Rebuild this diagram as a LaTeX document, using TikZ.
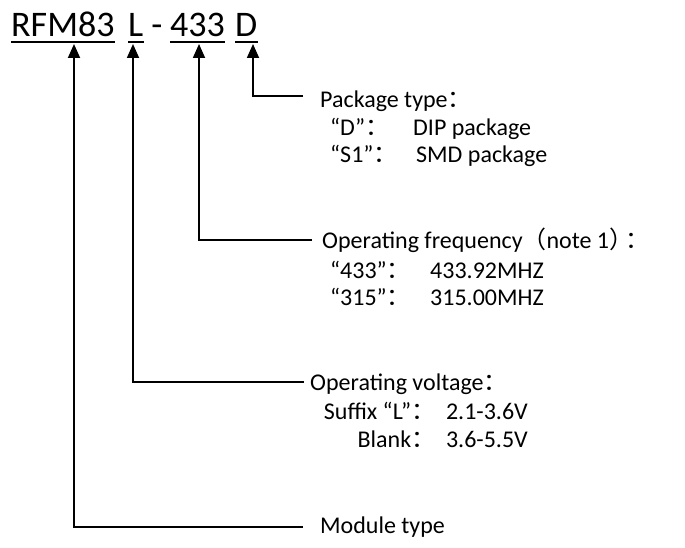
\documentclass[tikz,border=0pt]{standalone}
\usepackage{fontspec}
\setmainfont{Carlito}
\newfontfamily\cjk{Noto Sans CJK SC}
\usetikzlibrary{arrows.meta}
\newcommand{\fwc}{{\cjk ：}}
\newcommand{\fwl}{{\cjk （}}
\newcommand{\fwr}{\makebox[0.7em][l]{\cjk ）}}
\begin{document}
\begin{tikzpicture}[x=1pt,y=-1pt,
  titletext/.style={font=\fontsize{36}{40}\selectfont, inner sep=0pt, anchor=base west},
  lbl/.style={font=\fontsize{24}{28}\selectfont, inner sep=0pt, anchor=base west},
  lblr/.style={font=\fontsize{24}{28}\selectfont, inner sep=0pt, anchor=base east},
  ul/.style={line width=2.3pt},
  conn/.style={line width=1.8pt, -{Triangle[width=12pt,length=14pt]}}]
\useasboundingbox (0,0) rectangle (685,548);
% title
\node[titletext] (tR) at (11,37) {RFM83};
\node[titletext] (tL) at (128,37) {L};
\node[titletext] (tH) at (143,37) {\ -\ };
\node[titletext] (tF) at (170,37) {433};
\node[titletext] (tD) at (235,37) {D};
\foreach \n in {tR,tL,tF,tD}
  \draw[ul] ([yshift=-5pt]\n.base west) -- ([yshift=-5pt]\n.base east);
% arrow tips
\coordinate (aR) at (74,44);
\coordinate (aL) at (133,44);
\coordinate (aF) at (199,44);
\coordinate (aD) at (253,44);
% labels
\node[lbl] (pkg) at (320,108) {Package type\fwc};
\node[lbl] (pkgD) at (330,136) {\makebox[83pt][l]{“D”\fwc}DIP package};
\node[lbl] (pkgS) at (330,163) {\makebox[86pt][l]{“S1”\fwc}SMD package};
\node[lbl] (frq) at (322,248) {Operating frequency\fwl note 1\fwr\fwc};
\node[lbl] (frqA) at (330,278) {\makebox[100pt][l]{“433”\fwc}433.92MHZ};
\node[lbl] (frqB) at (330,305) {\makebox[100pt][l]{“315”\fwc}315.00MHZ};
\node[lbl] (vol) at (310,390) {Operating voltage\fwc};
\node[lblr] (volA) at (528,419) {Suffix “L”\fwc\ \ 2.1-3.6V};
\node[lblr] (volB) at (528,447) {Blank\fwc\ \ 3.6-5.5V};
\node[lbl] (mod) at (320,533) {Module type};
% connector ends
\coordinate (eD) at (303,96);
\coordinate (eF) at (312,240);
\coordinate (eL) at (304,382);
\coordinate (eR) at (303,527);
\draw[conn] (eD) -| (aD);
\draw[conn] (eF) -| (aF);
\draw[conn] (eL) -| (aL);
\draw[conn] (eR) -| (aR);
\end{tikzpicture}
\end{document}
